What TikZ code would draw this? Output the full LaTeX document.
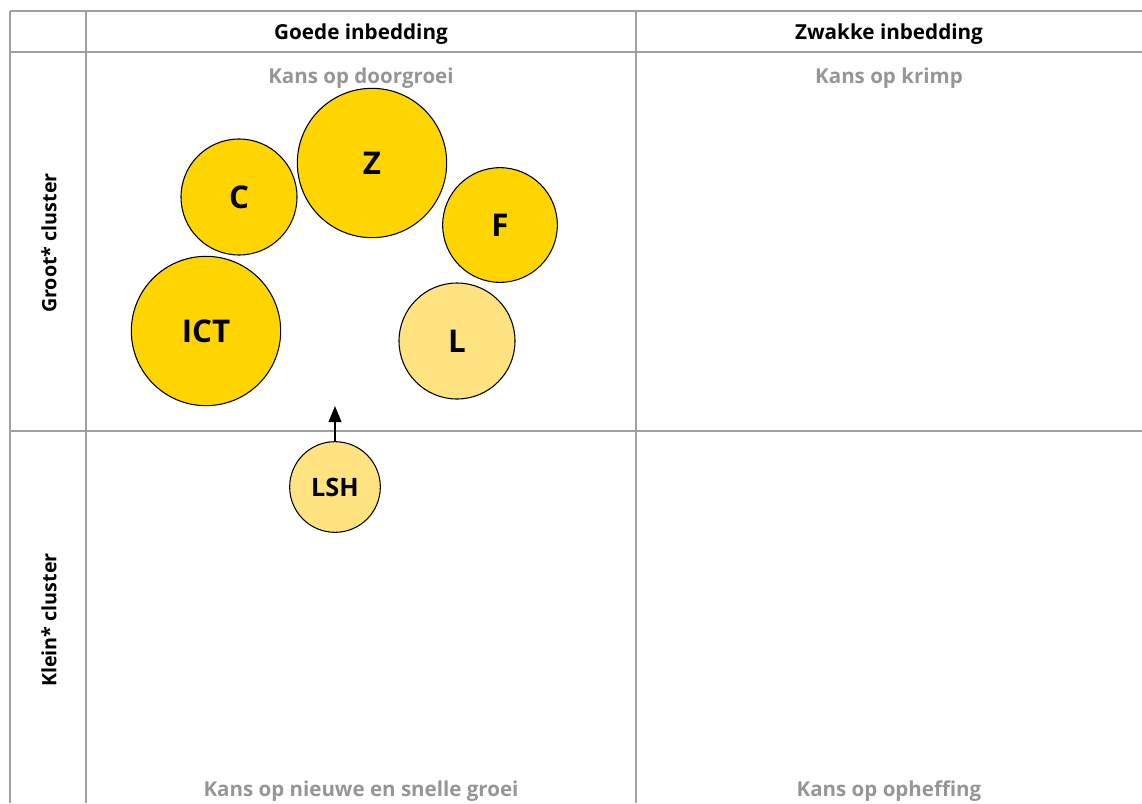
\documentclass[tikz,border=0pt]{standalone}
\usepackage{fontspec}
\setmainfont{Open Sans}
\usepackage{tikz}
\usetikzlibrary{arrows.meta}
\definecolor{grid}{HTML}{A0A0A0}
\definecolor{lbl}{HTML}{969696}
\definecolor{sterk}{HTML}{FFD500}
\definecolor{zwak}{HTML}{FFE380}
\tikzset{
  bol/.style={circle,draw=black,line width=0.8pt,fill=sterk,inner sep=0pt,font=\fontsize{23.5}{28}\selectfont\bfseries},
  bolzwak/.style={bol,fill=zwak},
  kop/.style={font=\fontsize{15.5}{18}\selectfont\bfseries},
  kans/.style={text=lbl,font=\fontsize{15.4}{18}\selectfont\bfseries}
}
\begin{document}
\begin{tikzpicture}[x=0.75pt,y=-0.75pt]
\useasboundingbox (0,0) rectangle (1142,803);
\draw[grid,line width=1.2pt] (10,11)--(1142,11);
\draw[grid,line width=1.2pt] (10,52)--(1142,52);
\draw[grid,line width=1.2pt] (10,431)--(1142,431);
% begin y
\draw[grid,line width=1.2pt] (10,11)--(10,803);
\draw[grid,line width=1.2pt] (86,11)--(86,803);
\draw[grid,line width=1.2pt] (636,11)--(636,803);
% headers
\node[kop] (goed) at (361,34) {Goede inbedding};
\node[kop] (zwakk) at (889,34) {Zwakke inbedding};
\node[kop,rotate=90,font=\fontsize{14.8}{18}\selectfont\bfseries] (groot) at (49,243) {Groot* cluster};
\node[kop,rotate=90,font=\fontsize{14.8}{18}\selectfont\bfseries] (klein) at (49,620) {Klein* cluster};
\node[kans] (doorgroei) at (361,78) {Kans op doorgroei};
\node[kans] (krimp) at (889,78) {Kans op krimp};
\node[kans] (nieuw) at (361,791) {Kans op nieuwe en snelle groei};
\node[kans] (opheffing) at (889,791) {Kans op opheffing};
% clusters
\node[bol,minimum size=112pt] (Z) at (372,163) {Z};
\node[bol,minimum size=87pt] (C) at (239,197) {C};
\node[bol,minimum size=86pt] (F) at (500,225) {F};
\node[bol,minimum size=112pt] (ICT) at (206,331) {ICT};
\node[bolzwak,minimum size=87pt] (L) at (457,341) {L};
\node[bolzwak,minimum size=68pt,font=\fontsize{19}{23}\selectfont\bfseries] (LSH) at (335,487) {LSH};
\coordinate (doel) at (335,406);
\draw[-{Triangle[width=9.5pt,length=12pt]},line width=1.5pt] (LSH)--(doel);
\end{tikzpicture}
\end{document}
